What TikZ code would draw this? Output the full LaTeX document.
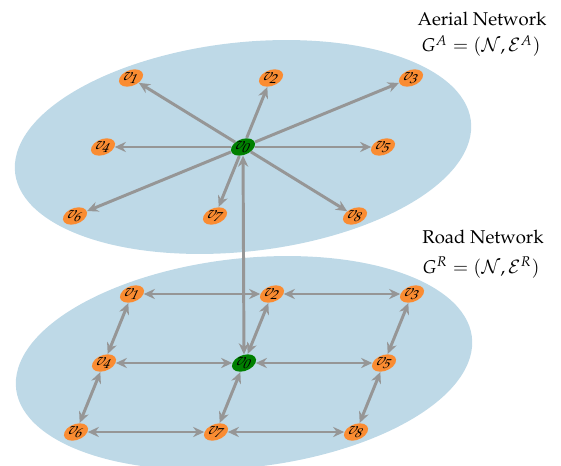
\documentclass[tikz,border=0pt]{standalone}
\usepackage[T1]{fontenc}
\usepackage{mathpazo}
\usetikzlibrary{shapes.geometric,arrows.meta}
\definecolor{layerblue}{RGB}{190,217,231}
\definecolor{vorange}{RGB}{250,140,50}
\definecolor{vgreen}{RGB}{0,128,0}
\definecolor{edgegray}{RGB}{150,150,150}
\tikzset{
  vtx/.style={ellipse, fill=vorange, minimum width=11.5pt, minimum height=9.4pt, inner sep=0pt, xslant=0.45, font=\small},
  hub/.style={vtx, fill=vgreen},
  link/.style={draw=edgegray, line width=1.6pt, -{Stealth[length=6pt,width=5.5pt]}},
  dlink/.style={draw=edgegray, line width=1.6pt, {Stealth[length=6pt,width=5.5pt]}-{Stealth[length=6pt,width=5.5pt]}},
  layer/.style={fill=layerblue},
  title/.style={anchor=base, inner sep=0pt},
}
\begin{document}
\begin{tikzpicture}[x=0.54pt,y=0.54pt]
\useasboundingbox (0,0) rectangle (561,465);
% aerial layer
\begin{scope}[shift={(131.22pt,171.72pt)}, x={(75.6pt,0pt)}, y={(15.12pt,37.26pt)}]
  \fill[layer] (0,0) ellipse [x radius=1.6, y radius=1.55];
  \node[hub] (a0) at (0,0) {$v_0$};
  \node[vtx] (a1) at (-1,1) {$v_1$};
  \node[vtx] (a2) at (0,1) {$v_2$};
  \node[vtx] (a3) at (1,1) {$v_3$};
  \node[vtx] (a4) at (-1,0) {$v_4$};
  \node[vtx] (a5) at (1,0) {$v_5$};
  \node[vtx] (a6) at (-1,-1) {$v_6$};
  \node[vtx] (a7) at (0,-1) {$v_7$};
  \node[vtx] (a8) at (1,-1) {$v_8$};
\end{scope}
% road layer
\begin{scope}[shift={(131.76pt,55.08pt)}, x={(75.6pt,0pt)}, y={(15.12pt,37.26pt)}]
  \fill[layer] (0,0) ellipse [x radius=1.6, y radius=1.55];
  \node[hub] (r0) at (0,0) {$v_0$};
  \node[vtx] (r1) at (-1,1) {$v_1$};
  \node[vtx] (r2) at (0,1) {$v_2$};
  \node[vtx] (r3) at (1,1) {$v_3$};
  \node[vtx] (r4) at (-1,0) {$v_4$};
  \node[vtx] (r5) at (1,0) {$v_5$};
  \node[vtx] (r6) at (-1,-1) {$v_6$};
  \node[vtx] (r7) at (0,-1) {$v_7$};
  \node[vtx] (r8) at (1,-1) {$v_8$};
\end{scope}
% aerial edges
\foreach \k in {1,...,8} \draw[link] (a0) -- (a\k);
% inter-layer edge
\draw[dlink] (a0) -- (r0);
% road edges
\draw[dlink] (r1) -- (r2);
\draw[dlink] (r2) -- (r3);
\draw[dlink] (r4) -- (r0);
\draw[dlink] (r0) -- (r5);
\draw[dlink] (r6) -- (r7);
\draw[dlink] (r7) -- (r8);
\draw[dlink] (r1) -- (r4);
\draw[dlink] (r4) -- (r6);
\draw[dlink] (r2) -- (r0);
\draw[dlink] (r0) -- (r7);
\draw[dlink] (r3) -- (r5);
\draw[dlink] (r5) -- (r8);
% titles
\node[title] (ta) at (482,439) {Aerial Network};
\node[title] (ga) at (481,413) {$G^A=(\mathcal{N},\mathcal{E}^A)$};
\node[title] (tr) at (483,222) {Road Network};
\node[title] (gr) at (481,192) {$G^R=(\mathcal{N},\mathcal{E}^R)$};
\end{tikzpicture}
\end{document}
